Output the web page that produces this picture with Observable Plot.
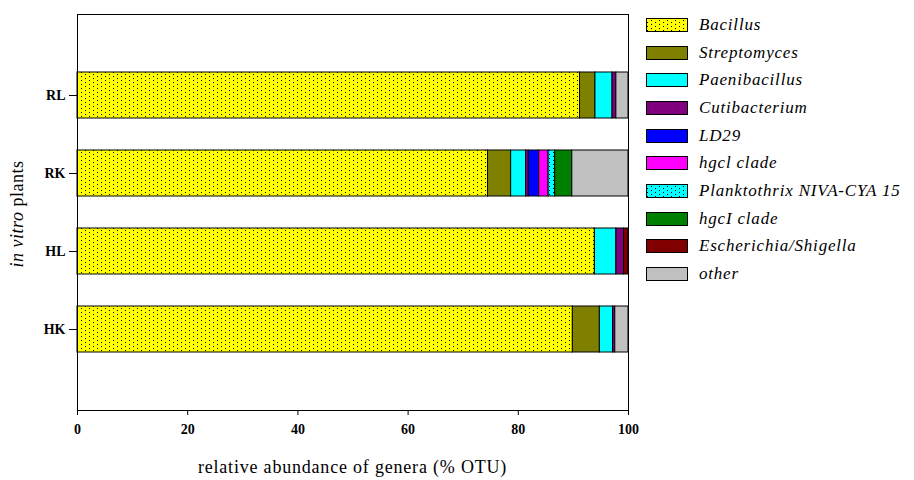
<!DOCTYPE html>
<html><head><meta charset="utf-8">
<script src="https://cdn.jsdelivr.net/npm/d3@7"></script>
<script src="https://cdn.jsdelivr.net/npm/@observablehq/plot@0.6"></script>
<style>
body{margin:0;background:#fff;}
#wrap{position:relative;width:914px;height:480px;font-family:"Liberation Serif","DejaVu Serif",serif;}
#legend{position:absolute;left:646px;top:11px;}
.row{display:flex;align-items:center;height:27.7px;}
.row svg{margin-right:11px;display:block;}
.lab{font-style:italic;font-size:17px;letter-spacing:0.8px;color:#000;white-space:nowrap;}
</style></head>
<body>
<svg width="0" height="0" style="position:absolute">
  <defs>
    <pattern id="dotsYellow" patternUnits="userSpaceOnUse" width="8" height="4">
      <rect width="8" height="4" fill="#ffff00"></rect>
      <rect x="1" y="0" width="1" height="1" fill="#000"></rect>
      <rect x="5" y="2" width="1" height="1" fill="#000"></rect>
    </pattern>
    <pattern id="dotsCyan" patternUnits="userSpaceOnUse" width="8" height="4">
      <rect width="8" height="4" fill="#00ffff"></rect>
      <rect x="1" y="0" width="1" height="1" fill="#000"></rect>
      <rect x="5" y="2" width="1" height="1" fill="#000"></rect>
    </pattern>
  </defs>
</svg>
<div id="wrap"><div id="chart"></div><div id="legend"></div></div>
<script>
const samples = ["RL","RK","HL","HK"];
const genera = ["Bacillus","Streptomyces","Paenibacillus","Cutibacterium","LD29","hgcl clade","Planktothrix NIVA-CYA 15","hgcI clade","Escherichia/Shigella","other"];
const fills = ["url(#dotsYellow)","#808000","#00ffff","#800080","#0000ff","#ff00ff","url(#dotsCyan)","#008000","#800000","#c0c0c0"];
const RL = [91.2,2.8,3.1,0.7,0,0,0,0,0,2.2];
const RK = [74.5,4.2,2.7,0.5,1.9,1.7,1.2,3.1,0,10.2];
const HL = [93.9,0,3.9,1.4,0,0,0,0,0.8,0];
const HK = [89.9,4.9,2.4,0.4,0,0,0,0,0,2.4];
const xTicks = [0,20,40,60,80,100];

const series = {RL, RK, HL, HK};
const data = [];
for (const s of samples) {
  series[s].forEach((v, i) => {
    if (v > 0) data.push({sample: s, genus: genera[i], value: v, fill: fills[i]});
  });
}

const chart = Plot.plot({
  width: 914,
  height: 480,
  marginLeft: 77,
  marginRight: 286,
  marginTop: 14,
  marginBottom: 70,
  style: {fontFamily: "'Liberation Serif', serif", fontSize: "14px", color: "#000", background: "#fff"},
  x: {domain: [0, 100], label: null},
  y: {domain: samples, paddingInner: 0.405, paddingOuter: 0.71, label: null},
  color: {type: "identity"},
  marks: [
    Plot.barX(data, Plot.stackX({x: "value", y: "sample", fill: "fill", stroke: "#000", strokeWidth: 1, order: null})),
    Plot.frame({stroke: "#000"}),
    Plot.axisX({ticks: xTicks, tickSize: 5, tickPadding: 9, fontWeight: "bold", label: null}),
    Plot.axisY({tickSize: 8, tickPadding: 4, fontWeight: "bold", label: null})
  ]
});
document.getElementById("chart").appendChild(chart);

const svg = d3.select(chart);
svg.append("text")
  .attr("x", (77 + 628) / 2).attr("y", 473)
  .attr("text-anchor", "middle")
  .style("font-size", "18px").style("letter-spacing", "0.8px").style("font-family", "'Liberation Serif', serif")
  .text("relative abundance of genera (% OTU)");
const yl = svg.append("text")
  .attr("transform", "translate(23,214) rotate(-90)")
  .attr("text-anchor", "middle")
  .style("font-size", "18px").style("letter-spacing", "0.5px").style("font-family", "'Liberation Serif', serif");
yl.append("tspan").style("font-style", "italic").text("in vitro");
yl.append("tspan").text(" plants");

const legend = d3.select("#legend");
genera.forEach((g, i) => {
  const row = legend.append("div").attr("class", "row");
  const sw = row.append("svg").attr("width", 42).attr("height", 14);
  sw.append("rect").attr("x", 0.5).attr("y", 0.5).attr("width", 41).attr("height", 13)
    .attr("fill", fills[i]).attr("stroke", "#000").attr("stroke-width", 1);
  row.append("span").attr("class", "lab").text(g);
});
</script>
</body></html>
